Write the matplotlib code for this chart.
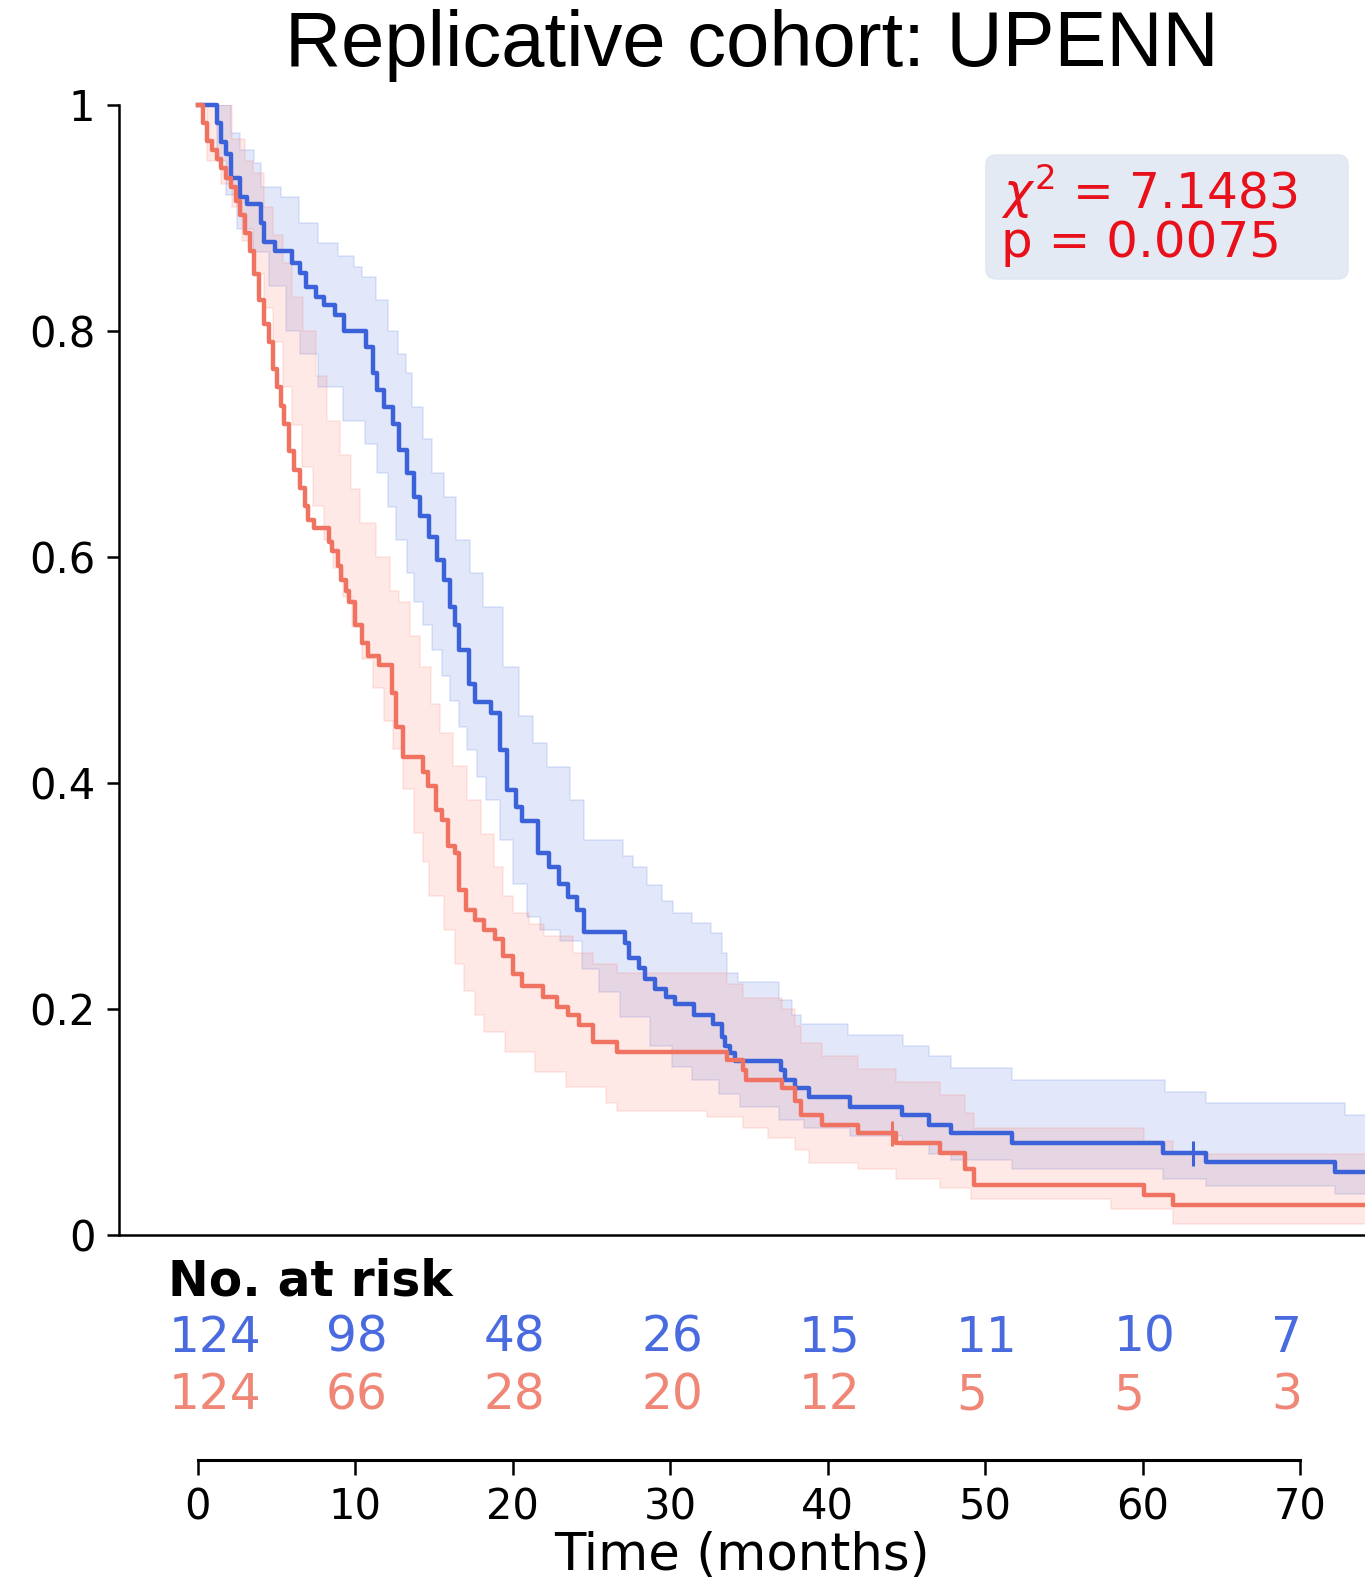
import numpy as np
import matplotlib
matplotlib.use("Agg")
import matplotlib.pyplot as plt
from matplotlib.patches import FancyBboxPatch
from matplotlib.transforms import blended_transform_factory

# Kaplan-Meier step curves (time in months, survival probability)
blue_t = [0, 1.2, 1.5, 1.8, 2.1, 2.7, 3.1, 4.0, 4.2, 4.9, 6.0, 6.5, 6.9, 7.5, 8.0,
          8.7, 9.3, 10.7, 11.1, 11.4, 11.8, 12.4, 12.8, 13.3, 13.7, 14.1, 14.7,
          15.2, 15.6, 16.0, 16.3, 16.6, 17.2, 17.6, 18.6, 19.2, 19.6, 20.2, 20.6,
          21.6, 22.3, 22.9, 23.5, 24.1, 24.5, 27.1, 27.4, 28.0, 28.4, 29.0, 29.7,
          30.3, 31.5, 32.7, 33.3, 33.5, 33.8, 34.1, 37.0, 37.3, 37.9, 38.8, 41.4,
          44.7, 46.4, 47.8, 51.7, 61.3, 64.0, 72.2]
blue_s = [1.0, 0.984, 0.967, 0.957, 0.935, 0.919, 0.912, 0.896, 0.879, 0.871, 0.860,
          0.851, 0.839, 0.830, 0.823, 0.814, 0.800, 0.786, 0.763, 0.748, 0.733,
          0.718, 0.695, 0.674, 0.653, 0.636, 0.618, 0.597, 0.580, 0.556, 0.540,
          0.518, 0.488, 0.472, 0.462, 0.429, 0.394, 0.379, 0.366, 0.338, 0.326,
          0.311, 0.299, 0.288, 0.268, 0.258, 0.245, 0.236, 0.227, 0.218, 0.211,
          0.204, 0.195, 0.187, 0.175, 0.167, 0.161, 0.154, 0.146, 0.137, 0.130,
          0.122, 0.113, 0.106, 0.097, 0.090, 0.081, 0.073, 0.065, 0.056]

red_t = [0, 0.3, 0.6, 0.9, 1.2, 1.5, 1.8, 2.1, 2.4, 2.7, 3.0, 3.3, 3.6, 3.9, 4.2,
         4.5, 4.8, 5.0, 5.3, 5.5, 5.8, 6.1, 6.5, 6.8, 7.0, 7.4, 8.3, 8.5, 8.9, 9.1,
         9.4, 9.6, 10.0, 10.4, 10.8, 11.5, 12.3, 12.6, 13.0, 14.3, 14.6, 15.1,
         15.5, 15.9, 16.3, 16.6, 17.0, 17.6, 18.2, 18.9, 19.4, 20.0, 20.6, 21.9,
         22.8, 23.5, 24.2, 25.1, 26.6, 33.6, 34.6, 34.8, 37.1, 37.9, 38.3, 39.6,
         41.9, 44.3, 47.1, 48.7, 49.3, 60.1, 61.9]
red_s = [1.0, 0.984, 0.968, 0.960, 0.952, 0.944, 0.935, 0.927, 0.915, 0.903, 0.887,
         0.871, 0.850, 0.827, 0.806, 0.790, 0.766, 0.750, 0.734, 0.718, 0.694,
         0.677, 0.661, 0.645, 0.633, 0.626, 0.613, 0.605, 0.592, 0.580, 0.570,
         0.560, 0.540, 0.524, 0.512, 0.504, 0.480, 0.450, 0.423, 0.410, 0.397,
         0.376, 0.367, 0.344, 0.338, 0.305, 0.288, 0.279, 0.270, 0.262, 0.247,
         0.231, 0.220, 0.211, 0.202, 0.195, 0.186, 0.171, 0.162, 0.155, 0.146,
         0.137, 0.130, 0.119, 0.106, 0.097, 0.090, 0.081, 0.073, 0.058, 0.044,
         0.035, 0.027]

# confidence bands
blue_hi_t = [0, 2.1, 2.7, 3.6, 4.0, 5.3, 6.4, 7.6, 8.9, 9.9, 10.4, 11.3, 12.1, 12.7,
             13.2, 13.6, 14.3, 14.9, 15.6, 16.4, 17.3, 18.1, 19.4, 20.4, 21.3, 22.2,
             23.6, 24.5, 27.0, 27.6, 28.5, 29.5, 30.2, 31.4, 32.6, 33.3, 33.6, 34.3,
             36.9, 37.7, 38.3, 41.3, 44.8, 46.4, 47.8, 51.7, 61.4, 64.0, 72.8]
blue_hi = [1.0, 0.975, 0.960, 0.949, 0.927, 0.919, 0.896, 0.878, 0.866, 0.857, 0.848,
           0.827, 0.800, 0.780, 0.763, 0.733, 0.704, 0.674, 0.653, 0.615, 0.586,
           0.556, 0.503, 0.459, 0.435, 0.414, 0.385, 0.350, 0.335, 0.326, 0.310,
           0.296, 0.285, 0.276, 0.267, 0.250, 0.232, 0.224, 0.208, 0.195, 0.187,
           0.177, 0.167, 0.158, 0.148, 0.137, 0.127, 0.117, 0.106]
blue_lo_t = [0, 1.2, 1.8, 2.5, 3.5, 4.5, 5.6, 6.5, 7.6, 9.2, 10.6, 11.4, 12.1, 12.6,
             13.3, 13.7, 14.3, 14.9, 15.5, 16.0, 16.6, 17.1, 17.7, 18.3, 19.2, 20.0,
             20.9, 21.7, 23.0, 24.4, 25.5, 26.8, 28.7, 30.1, 31.4, 33.1, 34.4, 36.9,
             38.5, 41.4, 44.7, 46.4, 47.8, 51.7, 61.3, 64.0, 72.2]
blue_lo = [1.0, 0.950, 0.920, 0.890, 0.870, 0.840, 0.800, 0.780, 0.750, 0.720, 0.700,
           0.674, 0.644, 0.615, 0.586, 0.560, 0.540, 0.518, 0.495, 0.473, 0.450,
           0.429, 0.405, 0.385, 0.350, 0.311, 0.281, 0.270, 0.260, 0.235, 0.215,
           0.193, 0.167, 0.149, 0.137, 0.125, 0.113, 0.102, 0.095, 0.088, 0.080,
           0.072, 0.066, 0.058, 0.050, 0.043, 0.036]

red_hi_t = [0, 2.2, 3.0, 3.5, 4.2, 4.8, 5.4, 6.0, 6.7, 7.5, 8.2, 9.0, 9.7, 10.3, 11.3,
            12.2, 12.8, 13.5, 14.1, 14.8, 15.4, 16.2, 17.1, 18.0, 18.8, 19.4, 20.0,
            21.0, 22.0, 23.8, 25.1, 26.6, 33.6, 34.6, 37.1, 37.9, 38.3, 39.6, 41.9,
            44.3, 47.1, 48.7, 49.3, 60.1, 61.9]
red_hi = [1.0, 0.970, 0.950, 0.940, 0.910, 0.885, 0.860, 0.830, 0.800, 0.760, 0.720,
          0.690, 0.660, 0.630, 0.600, 0.570, 0.560, 0.530, 0.503, 0.470, 0.444,
          0.415, 0.385, 0.355, 0.326, 0.300, 0.285, 0.275, 0.265, 0.250, 0.240,
          0.232, 0.222, 0.210, 0.200, 0.185, 0.170, 0.158, 0.147, 0.135, 0.124,
          0.108, 0.095, 0.083, 0.072]
red_lo_t = [0, 0.6, 1.5, 2.2, 2.8, 3.5, 4.2, 4.8, 5.4, 6.0, 6.6, 7.3, 8.0, 8.6, 9.2,
            9.8, 10.4, 11.1, 11.8, 12.4, 13.0, 13.7, 14.3, 14.7, 15.6, 16.3, 16.9,
            17.6, 18.2, 19.5, 21.4, 23.4, 25.9, 26.6, 32.3, 34.6, 36.2, 37.9, 38.8,
            41.9, 44.3, 47.1, 49.1, 58.0, 61.9]
red_lo = [1.0, 0.950, 0.930, 0.910, 0.880, 0.850, 0.820, 0.790, 0.750, 0.717, 0.680,
          0.645, 0.615, 0.590, 0.565, 0.538, 0.510, 0.484, 0.455, 0.430, 0.395,
          0.356, 0.330, 0.300, 0.270, 0.240, 0.216, 0.195, 0.180, 0.162, 0.144,
          0.131, 0.117, 0.110, 0.104, 0.095, 0.086, 0.075, 0.064, 0.058, 0.050,
          0.042, 0.032, 0.023, 0.010]

# censored observations
blue_cens = [(63.2, 0.073)]
red_cens = [(44.1, 0.090)]

# number at risk table
risk_ticks = [0, 10, 20, 30, 40, 50, 60, 70]
risk_blue = [124, 98, 48, 26, 15, 11, 10, 7]
risk_red = [124, 66, 28, 20, 12, 5, 5, 3]

BLUE = '#3b62d9'
RED = '#f07362'
T_END = 76


def step_at(knots, vals, grid):
    idx = np.searchsorted(np.asarray(knots), grid, side='right') - 1
    return np.asarray(vals)[idx]


def draw_group(ax, t, s, hi_t, hi, lo_t, lo, color, fill, alpha):
    grid = np.unique(np.concatenate([hi_t, lo_t, [T_END]]))
    ax.fill_between(grid, step_at(lo_t, lo, grid), step_at(hi_t, hi, grid),
                    step='post', color=fill, alpha=alpha, linewidth=1.2)
    tt = list(t) + [T_END]
    ss = list(s) + [s[-1]]
    ax.step(tt, ss, where='post', color=color, linewidth=3.2, clip_on=False, zorder=3)


fig = plt.figure(figsize=(13.65, 15.86), dpi=100)
ax = fig.add_axes([0.0872, 0.2213, 0.9128, 0.7125])

draw_group(ax, blue_t, blue_s, blue_hi_t, blue_hi, blue_lo_t, blue_lo,
           BLUE, 'royalblue', 0.15)
draw_group(ax, red_t, red_s, red_hi_t, red_hi, red_lo_t, red_lo,
           RED, 'salmon', 0.17)

for x, y in blue_cens:
    ax.plot(x, y, marker='|', markersize=18, mew=2.2, color=BLUE, zorder=4)
for x, y in red_cens:
    ax.plot(x, y, marker='|', markersize=18, mew=2.2, color=RED, zorder=4)

ax.set_xlim(-5, 74.1)
ax.set_ylim(0, 1)
ax.spines['top'].set_visible(False)
ax.spines['right'].set_visible(False)
ax.spines['left'].set_linewidth(1.8)
ax.spines['bottom'].set_linewidth(1.8)
ax.set_xticks([])
ax.set_yticks([0, 0.2, 0.4, 0.6, 0.8, 1.0])
ax.set_yticklabels(['0', '0.2', '0.4', '0.6', '0.8', '1'])
ax.tick_params(axis='y', labelsize=30, length=9, width=1.8, pad=8)

# separate time axis below the risk table
ax2 = fig.add_axes([0.0872, 1 - 1460 / 1586, 0.9128, 0.0001])
ax2.set_xlim(ax.get_xlim())
for side in ['top', 'right', 'left']:
    ax2.spines[side].set_visible(False)
ax2.spines['bottom'].set_bounds(0, 70)
ax2.spines['bottom'].set_linewidth(2.2)
ax2.set_yticks([])
ax2.set_xticks(risk_ticks)
ax2.tick_params(axis='x', labelsize=30, length=11, width=1.8, pad=8)
ax2.set_xlabel('Time (months)', fontsize=37, labelpad=2)

# risk table (labels left-aligned slightly before each tick)
tr = blended_transform_factory(ax.transData, fig.transFigure)
shift = -1.86
ax.text(shift, 1 - 1282 / 1586, 'No. at risk', transform=tr, fontsize=35,
        fontweight='bold', ha='left', va='center', clip_on=False)
for x, nb, nr in zip(risk_ticks, risk_blue, risk_red):
    ax.text(x + shift, 1 - 1338 / 1586, str(nb), transform=tr, fontsize=35,
            color='#4a6be0', ha='left', va='center', clip_on=False)
    ax.text(x + shift, 1 - 1395 / 1586, str(nr), transform=tr, fontsize=35,
            color='#f08676', ha='left', va='center', clip_on=False)

# log-rank annotation
box = FancyBboxPatch((9.86, 13.07), 3.62, 1.24,
                     boxstyle='round,pad=0,rounding_size=0.1',
                     transform=fig.dpi_scale_trans, facecolor='#e4eaf4',
                     edgecolor='#dfe6f0', linewidth=1, zorder=5)
fig.patches.append(box)
fig.text(1001 / 1365, 1 - 192 / 1586, r'$\chi^2$ = 7.1483', fontsize=35,
         color='#e8101a', ha='left', va='center', zorder=6)
fig.text(1001 / 1365, 1 - 243 / 1586, 'p = 0.0075', fontsize=36,
         color='#e8101a', ha='left', va='center', zorder=6)

fig.text(752 / 1365, 1 - 46 / 1586, 'Replicative cohort: UPENN',
         fontsize=56, family='Liberation Sans', ha='center', va='center')

fig.savefig('out.png', dpi=100)
